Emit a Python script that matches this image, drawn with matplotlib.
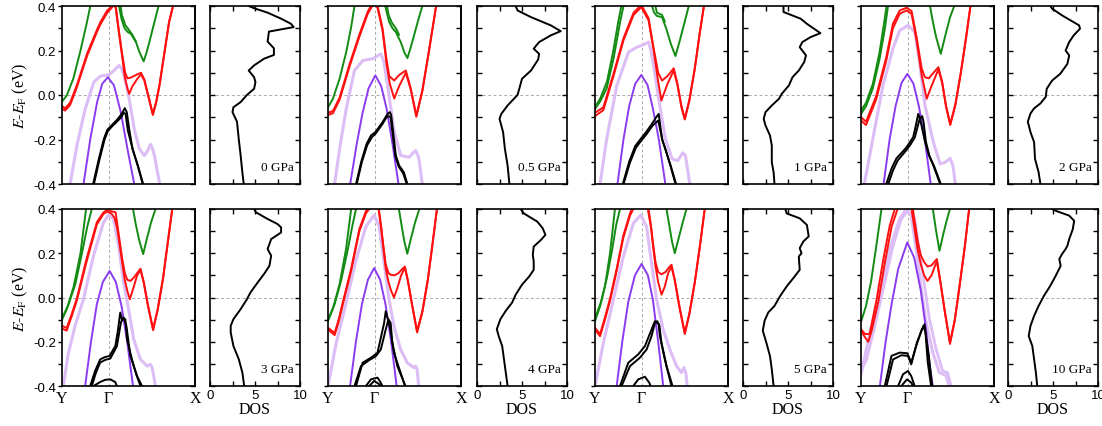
import numpy as np
import matplotlib.pyplot as plt

plt.rcParams['font.family'] = ['Liberation Serif', 'DejaVu Serif']
plt.rcParams['mathtext.fontset'] = 'stix'
plt.rcParams['axes.unicode_minus'] = False

# ---------------- data: bands as (k in % of Y-G-X path, E in eV) ----------------
pressures = ["0 GPa", "0.5 GPa", "1 GPa", "2 GPa", "3 GPa", "4 GPa", "5 GPa", "10 GPa"]
k_labels = ["Y", "\u0393", "X"]
k_pos = [0, 35, 100]

bands_0 = {
    "lav": [(6.1,-0.40),(11.2,-0.227),(17.5,-0.062),(23.9,0.058),(28.9,0.085),(35.3,0.091),(39.1,0.11),(42.9,0.133),(44.7,0.12),(46.7,0.088),(50.5,-0.017),(54.3,-0.152),(58.1,-0.242),(61.9,-0.272),(64.5,-0.25),(66.5,-0.222),(68,-0.24),(69.5,-0.272),(73.4,-0.40)],
    "purple": [(16.2,-0.40),(21.3,-0.197),(26.4,-0.032),(30.2,0.05),(34.5,0.08),(39.1,0.043),(44.2,-0.077),(49.2,-0.242),(54.3,-0.40)],
    "black_a": [(23.4,-0.40),(27.7,-0.287),(31.5,-0.197),(34,-0.157),(37.2,-0.137),(41.6,-0.11),(45.4,-0.08),(47.2,-0.059),(48.7,-0.077),(50.5,-0.152),(53,-0.242),(56.9,-0.317),(60.7,-0.40)],
    "black_b": [(24,-0.40),(28.2,-0.29),(32,-0.2),(34.5,-0.162),(37.5,-0.142),(41.6,-0.118),(44.5,-0.1),(46.5,-0.08),(47.8,-0.085),(49.5,-0.16),(53.3,-0.247),(57.2,-0.32),(61,-0.40)],
    "red_a": [(0,-0.05),(2.3,-0.06),(6.1,-0.035),(11.2,0.045),(18.8,0.185),(26.4,0.295),(28.9,0.328),(34,0.38),(37.8,0.40),(39.1,0.42),(40.4,0.40),(42.9,0.283),(45.4,0.178),(47.5,0.10),(49.2,0.075),(51.8,0.078),(55.6,0.09),(59.4,0.10),(61.9,0.07),(65,-0.005),(68.3,-0.085),(70.8,-0.03),(73.4,0.05),(77.2,0.20),(80.5,0.33),(83.5,0.40)],
    "red_b": [(0,-0.062),(2.3,-0.07),(6.1,-0.045),(11.2,0.035),(18.8,0.175),(26.4,0.285),(28.9,0.318),(34,0.37),(37.8,0.395),(39.1,0.41),(40.4,0.39),(42.9,0.275),(45.4,0.165),(47.2,0.08),(49.2,0.03),(50.5,0.005),(53,0.04),(56.9,0.075),(59.4,0.093),(61.9,0.065),(65,-0.01),(68.3,-0.09),(70.8,-0.035),(73.4,0.045),(77.2,0.195),(80.5,0.325),(83.5,0.40)],
    "green_l": [(0,-0.03),(3.6,-0.002),(8.6,0.075),(13.7,0.195),(18.3,0.315),(21.3,0.40),(22.5,0.44)],
    "green_r": [(42.3,0.44),(42.9,0.40),(44.7,0.343),(47.2,0.298),(49.5,0.283),(51.8,0.275),(55.6,0.238),(58.1,0.195),(61.4,0.151),(63.5,0.19),(65.7,0.238),(69.5,0.328),(72.6,0.40),(73.5,0.43)],
    "green_r2": [(43.6,0.42),(45,0.36),(47.5,0.315),(50,0.295),(53,0.27),(55.6,0.24)],
}
bands_05 = {
    "lav": [(5,-0.40),(8.7,-0.242),(13.7,-0.062),(19.9,0.11),(26.1,0.155),(33.6,0.163),(37,0.175),(39.8,0.185),(42,0.15),(44.8,0.043),(49.8,-0.167),(54.7,-0.272),(60.9,-0.28),(64,-0.26),(65.9,-0.25),(67.5,-0.27),(68.4,-0.287),(70.9,-0.40)],
    "purple": [(16.7,-0.40),(21.6,-0.22),(26,-0.08),(30.5,0.03),(35.6,0.088),(40,0.04),(44,-0.06),(48.5,-0.22),(53,-0.40)],
    "black_a": [(21.1,-0.40),(25,-0.3),(29,-0.22),(32.3,-0.182),(35.6,-0.167),(41,-0.122),(44.8,-0.085),(46.5,-0.077),(47.5,-0.09),(49,-0.167),(51,-0.272),(53.5,-0.317),(57,-0.347),(59.7,-0.40)],
    "black_b": [(21.6,-0.40),(25.5,-0.3),(29.5,-0.225),(33,-0.19),(36,-0.172),(41,-0.13),(44,-0.1),(45.8,-0.095),(47,-0.1),(48.5,-0.17),(50.6,-0.275),(53.2,-0.322),(56.5,-0.352),(59.2,-0.40)],
    "red_a": [(0,-0.08),(3.7,-0.072),(8.7,-0.012),(16.2,0.138),(23.6,0.272),(29.9,0.375),(32.3,0.40),(34.8,0.425),(37.3,0.40),(41,0.30),(44,0.16),(46,0.085),(49.8,0.065),(53.5,0.09),(58.5,0.11),(62.2,0.03),(66.4,-0.092),(70.9,0.02),(75.9,0.2),(81.3,0.40)],
    "red_b": [(0,-0.09),(3.7,-0.082),(8.7,-0.022),(16.2,0.128),(23.6,0.262),(29.9,0.365),(32.3,0.39),(34.8,0.415),(37.3,0.39),(41,0.29),(44,0.14),(46.5,0.05),(49.8,-0.016),(53.5,0.04),(58.5,0.1),(62.2,0.025),(66.4,-0.098),(70.9,0.015),(75.9,0.195),(81.3,0.40)],
    "green_l": [(0,-0.055),(3.7,-0.017),(8.7,0.073),(13.7,0.193),(17.4,0.305),(19.9,0.40),(20.8,0.44)],
    "green_r": [(42.5,0.44),(43,0.40),(46,0.328),(48.5,0.30),(51,0.283),(54.7,0.238),(57.5,0.19),(59.7,0.166),(62,0.21),(64.7,0.268),(68,0.34),(70.9,0.40),(71.8,0.43)],
    "green_r2": [(43.8,0.42),(45.5,0.36),(48,0.325),(51,0.30),(53.5,0.27)],
}
bands_1 = {
    "lav": [(3.8,-0.40),(8.8,-0.197),(16.4,0.043),(25.2,0.193),(31.5,0.215),(36,0.225),(40.3,0.238),(42,0.2),(44.1,0.133),(47.9,-0.017),(52.9,-0.197),(58,-0.287),(62.2,-0.295),(66,-0.26),(68,-0.272),(71.3,-0.40)],
    "purple": [(16.9,-0.40),(21.4,-0.2),(25.7,-0.05),(30.2,0.05),(34.8,0.09),(39.5,0.045),(43.5,-0.06),(48,-0.2),(52.9,-0.40)],
    "black_a": [(20.9,-0.40),(25.7,-0.3),(30.2,-0.23),(34,-0.2),(38,-0.17),(42.8,-0.13),(46,-0.1),(47.9,-0.085),(49.1,-0.14),(50.5,-0.2),(53,-0.245),(56.7,-0.317),(60.5,-0.40)],
    "black_b": [(21.5,-0.40),(26.2,-0.305),(30.7,-0.238),(34.5,-0.207),(38.5,-0.178),(43,-0.14),(45.5,-0.125),(47.5,-0.115),(48.8,-0.15),(50.8,-0.205),(53.3,-0.25),(57,-0.32),(61,-0.40)],
    "red_a": [(0,-0.08),(6.3,-0.055),(13.9,0.095),(21.4,0.255),(29,0.37),(34.8,0.405),(40.3,0.345),(44.1,0.21),(47.5,0.1),(50.4,0.065),(54.5,0.085),(59.2,0.12),(62,0.05),(65,-0.05),(67.5,-0.107),(71,-0.02),(75,0.12),(78.5,0.27),(81.9,0.40)],
    "red_b": [(0,-0.095),(6.3,-0.068),(13.9,0.085),(21.4,0.245),(29,0.36),(34.8,0.395),(40.3,0.335),(44.1,0.2),(47.5,0.06),(49.9,-0.025),(54.5,0.05),(59.2,0.11),(62,0.045),(65,-0.055),(67.5,-0.11),(71,-0.025),(75,0.115),(78.5,0.265),(81.9,0.40)],
    "green_l": [(0,-0.062),(3.8,-0.03),(8.8,0.03),(13.9,0.163),(18.9,0.328),(21.4,0.40),(22.3,0.44)],
    "green_l2": [(0,-0.055),(4,-0.015),(9,0.06),(13.5,0.19),(17.5,0.33),(19.8,0.40),(20.5,0.44)],
    "green_r": [(42.5,0.44),(42.8,0.40),(44.5,0.37),(46.6,0.355),(50.4,0.35),(53.5,0.30),(57,0.23),(60.5,0.175),(64,0.25),(67.5,0.33),(70.5,0.40),(71.3,0.43)],
    "green_r2": [(44.5,0.42),(46.6,0.37),(50.4,0.36),(52.5,0.33)],
}
bands_2 = {
    "lav": [(2.5,-0.40),(8.9,-0.197),(16.5,0.043),(24,0.208),(29.1,0.29),(35.4,0.313),(40.5,0.283),(44.3,0.133),(48.1,-0.047),(54.4,-0.212),(59.5,-0.31),(63.3,-0.302),(67.1,-0.285),(69.1,-0.317),(70.9,-0.40)],
    "purple": [(17,-0.40),(21.5,-0.2),(26,-0.05),(30.5,0.055),(34.9,0.095),(39.5,0.05),(43.5,-0.05),(48,-0.2),(52.4,-0.40)],
    "black_a": [(19,-0.40),(23,-0.33),(26.6,-0.285),(30.5,-0.26),(34.2,-0.235),(37,-0.21),(39.2,-0.19),(41.5,-0.13),(43,-0.085),(44,-0.1),(45.6,-0.14),(48.1,-0.21),(51,-0.27),(54.4,-0.317),(59.5,-0.40)],
    "black_b": [(20.5,-0.40),(24,-0.34),(27.5,-0.295),(31,-0.27),(34.5,-0.245),(37.5,-0.22),(40.5,-0.19),(44,-0.11),(46,-0.095),(47,-0.12),(48.8,-0.21),(51.5,-0.275),(55,-0.32),(60,-0.40)],
    "red_a": [(0,-0.1),(3.8,-0.12),(11.4,-0.005),(19,0.17),(24,0.32),(29.1,0.38),(34.2,0.392),(38,0.378),(41.8,0.26),(45.6,0.12),(48,0.08),(51,0.075),(54.5,0.1),(58.2,0.125),(61,0.06),(64,-0.05),(67.1,-0.13),(71,-0.04),(75,0.1),(79,0.26),(82.3,0.40)],
    "red_b": [(0,-0.115),(3.8,-0.135),(11.4,-0.02),(19,0.155),(24,0.3),(29.1,0.365),(34.2,0.38),(38,0.365),(41.8,0.245),(45.6,0.09),(49.4,-0.017),(53,0.04),(58.2,0.115),(61,0.055),(64,-0.055),(67.1,-0.135),(71,-0.045),(75,0.095),(79,0.255),(82.3,0.40)],
    "green_l": [(0,-0.085),(3.8,-0.05),(8.9,0.03),(13.9,0.16),(18,0.3),(20.3,0.40),(21,0.44)],
    "green_l2": [(0,-0.07),(3.8,-0.035),(8.9,0.05),(13.9,0.19),(17.5,0.33),(19.2,0.40),(19.8,0.44)],
    "green_r": [(51.5,0.44),(51.9,0.40),(54,0.33),(56.5,0.26),(60,0.185),(63.5,0.27),(67,0.35),(70.1,0.40),(70.8,0.43)],
}
bands_3 = {
    "lav": [(1,-0.40),(4.5,-0.26),(9.8,-0.128),(16.1,-0.008),(23.7,0.189),(31.2,0.34),(35,0.372),(38.8,0.355),(42.6,0.234),(46.3,0.068),(50.1,-0.053),(53.9,-0.189),(59,-0.28),(64,-0.31),(66.5,-0.302),(67.8,-0.317),(70.3,-0.40)],
    "purple": [(17.4,-0.40),(21.8,-0.2),(26.2,-0.03),(30.7,0.07),(35.8,0.12),(40.5,0.07),(44.8,-0.04),(49,-0.2),(53.4,-0.40)],
    "black_a": [(21.2,-0.40),(25,-0.33),(28.7,-0.28),(32,-0.27),(35.8,-0.264),(40.1,-0.219),(42,-0.15),(43.8,-0.068),(45,-0.098),(47.6,-0.098),(48.9,-0.189),(52.6,-0.28),(56,-0.35),(59,-0.40)],
    "black_b": [(22.4,-0.40),(25.5,-0.34),(28.7,-0.294),(32.5,-0.282),(36.3,-0.276),(41.3,-0.22),(44.3,-0.113),(46.3,-0.09),(48.4,-0.128),(51.4,-0.264),(56.4,-0.355),(60.2,-0.40)],
    "black_c": [(23.7,-0.40),(28.7,-0.382),(32.5,-0.372),(36.3,-0.37),(40,-0.382),(41.3,-0.40)],
    "red_a": [(0,-0.128),(3.5,-0.138),(7,-0.08),(11.1,-0.005),(18.6,0.178),(26.2,0.34),(31.2,0.385),(33.8,0.395),(37,0.39),(40.3,0.385),(41.6,0.33),(43.5,0.25),(45.3,0.175),(47.2,0.11),(49.1,0.08),(51.5,0.075),(54,0.09),(56.5,0.11),(59,0.13),(61.5,0.07),(64.5,-0.03),(68.5,-0.143),(72,-0.05),(76,0.09),(79.5,0.25),(82.9,0.40)],
    "red_b": [(0,-0.14),(3.5,-0.15),(7,-0.09),(11.1,-0.015),(18.6,0.165),(26.2,0.33),(31.2,0.378),(33.8,0.388),(37,0.38),(39.5,0.36),(41.6,0.31),(43.5,0.23),(45.3,0.155),(47.2,0.08),(49.1,0.03),(51,-0.008),(53.5,0.04),(56.5,0.1),(59,0.125),(61.5,0.065),(64.5,-0.035),(68.5,-0.148),(72,-0.055),(76,0.085),(79.5,0.245),(82.9,0.40)],
    "green_l": [(0,-0.10),(3.8,-0.05),(8.8,0.05),(13.9,0.2),(18.1,0.40),(18.8,0.44)],
    "green_l2": [(0,-0.095),(5,-0.03),(10,0.06),(15,0.2),(19,0.32),(22.4,0.40),(23,0.44)],
    "green_r": [(53,0.44),(53.4,0.40),(55.5,0.33),(58,0.26),(61,0.196),(64,0.27),(67,0.34),(70.3,0.40),(71,0.43)],
}
bands_4 = {
    "lav": [(0,-0.40),(6.2,-0.205),(13.6,-0.025),(21.1,0.17),(28.5,0.32),(34.7,0.373),(38.5,0.32),(42.2,0.155),(45.9,-0.008),(49.6,-0.13),(54.6,-0.235),(59.6,-0.295),(64.5,-0.317),(65.8,-0.31),(67,-0.325),(68.2,-0.40)],
    "purple": [(16.6,-0.40),(21,-0.2),(25.5,-0.03),(30,0.08),(34.7,0.133),(39.2,0.08),(43.2,-0.03),(47.5,-0.2),(51.6,-0.40)],
    "black_a": [(21.1,-0.40),(26,-0.295),(32.3,-0.272),(37.2,-0.25),(42.2,-0.115),(43.4,-0.062),(44.7,-0.092),(47.1,-0.115),(48.4,-0.205),(52.1,-0.31),(58.3,-0.40)],
    "black_b": [(19.9,-0.40),(24.8,-0.31),(31,-0.283),(36,-0.265),(39.7,-0.235),(43.4,-0.145),(45.4,-0.1),(46.4,-0.13),(49.6,-0.25),(54.6,-0.34),(57.8,-0.40)],
    "black_c": [(28.5,-0.40),(32.3,-0.37),(37.2,-0.362),(39.7,-0.385),(40.9,-0.40)],
    "black_d": [(31,-0.40),(34.7,-0.377),(38.5,-0.392),(39.7,-0.40)],
    "red_a": [(0,-0.137),(5,-0.16),(8,-0.1),(11.2,-0.02),(17.4,0.13),(23.6,0.31),(28.5,0.39),(31,0.41),(34.7,0.43),(38,0.41),(40,0.32),(41.5,0.24),(43.4,0.15),(45.5,0.11),(47.1,0.103),(50,0.1),(53,0.11),(56,0.13),(57.8,0.14),(60,0.08),(63.5,-0.04),(67,-0.152),(71,-0.06),(75,0.08),(78.5,0.24),(81.9,0.40)],
    "red_b": [(0,-0.145),(5,-0.17),(8,-0.11),(11.2,-0.03),(17.4,0.12),(23.6,0.3),(28.5,0.38),(31,0.40),(34.7,0.42),(38,0.40),(40,0.31),(41.5,0.23),(43.4,0.13),(45.5,0.07),(47.5,0.03),(49.6,0.0),(52,0.04),(55,0.1),(57.8,0.135),(60,0.075),(63.5,-0.045),(67,-0.158),(71,-0.065),(75,0.075),(78.5,0.235),(81.9,0.40)],
    "green_l": [(0,-0.107),(3.7,-0.05),(8.7,0.06),(13.6,0.22),(17.4,0.40),(18,0.44)],
    "green_l2": [(0,-0.1),(5,-0.03),(10,0.08),(15,0.22),(18.5,0.33),(21.1,0.40),(21.7,0.44)],
    "green_r": [(53,0.44),(53.3,0.40),(55.5,0.32),(57.5,0.25),(59.6,0.198),(62.5,0.27),(65.5,0.34),(68.7,0.40),(69.3,0.43)],
}
bands_5 = {
    "lav": [(0,-0.40),(6.3,-0.205),(13.8,-0.01),(21.3,0.185),(28.8,0.335),(34.3,0.373),(38.8,0.32),(42.5,0.155),(46.3,-0.008),(51.3,-0.145),(56.3,-0.235),(61.3,-0.31),(65,-0.34),(66.8,-0.317),(68.3,-0.34),(69.3,-0.40)],
    "purple": [(16.3,-0.40),(20.5,-0.2),(25,-0.02),(30,0.1),(35,0.152),(39.8,0.1),(43.5,-0.01),(47.5,-0.2),(51.3,-0.40)],
    "black_a": [(20,-0.40),(26.3,-0.31),(33.8,-0.272),(38.8,-0.235),(42.5,-0.175),(45,-0.115),(46.8,-0.107),(47.8,-0.12),(48.8,-0.175),(52.5,-0.28),(57.5,-0.40)],
    "black_b": [(18.8,-0.40),(25,-0.295),(32.5,-0.257),(37.5,-0.22),(42.5,-0.145),(45,-0.107),(48.3,-0.122),(50,-0.205),(53.8,-0.31),(58.3,-0.40)],
    "black_c": [(28.8,-0.40),(32.5,-0.37),(37.5,-0.358),(40.8,-0.385),(41.8,-0.40)],
    "red_a": [(0,-0.137),(3.8,-0.165),(7.5,-0.09),(11.3,-0.005),(16.3,0.13),(21.3,0.28),(26.3,0.38),(28.5,0.41),(35,0.46),(40,0.41),(42,0.33),(43.8,0.235),(45.5,0.16),(47.5,0.115),(50,0.105),(53,0.115),(55.5,0.135),(57.5,0.148),(60,0.08),(63.5,-0.04),(67.5,-0.16),(71,-0.07),(75,0.07),(79,0.24),(82.5,0.40)],
    "red_b": [(0,-0.145),(3.8,-0.175),(7.5,-0.1),(11.3,-0.015),(16.3,0.12),(21.3,0.27),(26.3,0.37),(28.8,0.40),(35,0.45),(39.7,0.40),(42,0.32),(43.8,0.225),(45.5,0.14),(47.5,0.07),(50,0.013),(52.5,0.05),(55,0.11),(57.5,0.14),(60,0.075),(63.5,-0.045),(67.5,-0.165),(71,-0.075),(75,0.065),(79,0.235),(82.5,0.40)],
    "green_l": [(0,-0.107),(3.8,-0.04),(7.5,0.05),(11.3,0.2),(15,0.40),(15.6,0.44)],
    "green_l2": [(0,-0.095),(4.5,-0.02),(9,0.09),(13,0.22),(16,0.33),(18.8,0.40),(19.4,0.44)],
    "green_r": [(53.4,0.44),(53.8,0.40),(56,0.32),(58,0.25),(60,0.2),(63,0.27),(66,0.34),(68.8,0.40),(69.4,0.43)],
}
bands_10 = {
    "lav": [(0,-0.347),(6.7,-0.158),(14.2,0.023),(21.6,0.219),(29.1,0.355),(34.1,0.40),(37.8,0.37),(41.5,0.219),(45.3,0.038),(49,-0.113),(54,-0.249),(59,-0.34),(63.9,-0.352),(66.4,-0.40)],
    "lav_b": [(0,-0.332),(4.2,-0.28),(9.2,-0.158),(16.7,0.038),(24.1,0.234),(30.3,0.355),(35.3,0.392),(40.3,0.355),(44,0.204),(47.8,0.053),(51.5,-0.098),(56.5,-0.234),(61.4,-0.332),(65.2,-0.34),(67.7,-0.40)],
    "purple": [(14.2,-0.40),(18.5,-0.2),(23,-0.03),(28,0.13),(34.8,0.249),(40,0.18),(45,0.03),(49,-0.15),(51.5,-0.3),(54,-0.40)],
    "black_a": [(17.9,-0.40),(22.9,-0.264),(29.1,-0.249),(34.8,-0.252),(37.8,-0.294),(41.5,-0.219),(45.3,-0.151),(47.8,-0.121),(48.5,-0.16),(50.2,-0.294),(52.7,-0.40)],
    "black_b": [(19.2,-0.40),(24.1,-0.28),(30.3,-0.261),(35.3,-0.264),(37.8,-0.302),(42,-0.204),(47,-0.128),(48.5,-0.158),(51,-0.264),(53.5,-0.40)],
    "black_c": [(27.9,-0.40),(31.6,-0.347),(35.3,-0.332),(37.8,-0.355),(40.3,-0.40)],
    "black_d": [(30.3,-0.40),(34.6,-0.37),(37.8,-0.385),(39,-0.40)],
    "red_a": [(0,-0.143),(3,-0.165),(6.5,-0.165),(11.7,-0.01),(16.7,0.17),(21.6,0.325),(25.4,0.40),(30,0.46),(35,0.48),(39,0.40),(41,0.32),(42.8,0.25),(45,0.19),(47.5,0.16),(50,0.14),(53,0.145),(57,0.174),(59.5,0.08),(63,-0.06),(66.9,-0.204),(70.5,-0.1),(74,0.05),(78,0.23),(81.3,0.40)],
    "red_b": [(0,-0.15),(3,-0.18),(5.5,-0.2),(8,-0.15),(13,-0.02),(18,0.16),(23,0.32),(27.5,0.40),(33,0.45),(38,0.40),(40.5,0.30),(42.5,0.22),(45,0.15),(47.5,0.1),(50,0.075),(53,0.1),(57,0.165),(59.5,0.075),(63,-0.065),(66.9,-0.21),(70.5,-0.105),(74,0.045),(78,0.225),(81.3,0.40)],
    "green_l": [(0,-0.11),(3.7,-0.04),(7.5,0.07),(11.2,0.22),(15.4,0.40),(16,0.44)],
    "green_r": [(53.6,0.44),(54,0.40),(56.5,0.3),(59,0.211),(62,0.29),(64.5,0.35),(66.9,0.40),(67.4,0.43)],
}
band_sets = [bands_0, bands_05, bands_1, bands_2, bands_3, bands_4, bands_5, bands_10]

# DOS (states, E in eV)
dos_0 = [(4.3,0.40),(4.9,0.39),(6.4,0.37),(7.9,0.343),(9.0,0.32),(9.3,0.305),(7.9,0.295),(6.55,0.285),(6.4,0.24),(7.1,0.21),(7.1,0.18),(6.0,0.163),(4.9,0.133),(4.3,0.11),(4.9,0.08),(5.05,0.058),(4.9,0.028),(4.1,0.0),(3.4,-0.032),(2.6,-0.055),(2.5,-0.077),(3.0,-0.12),(3.2,-0.2),(3.4,-0.27),(3.6,-0.35),(3.75,-0.40)]
dos_05 = [(4.3,0.40),(4.5,0.38),(6.0,0.35),(8.2,0.313),(9.3,0.287),(8.2,0.268),(6.9,0.238),(6.3,0.208),(6.9,0.185),(6.8,0.16),(6.0,0.11),(5.0,0.073),(4.7,0.028),(4.5,0.0),(3.4,-0.047),(2.7,-0.085),(2.5,-0.107),(2.9,-0.167),(3.1,-0.242),(3.4,-0.317),(3.6,-0.40)]
dos_1 = [(4.5,0.40),(4.5,0.373),(6.4,0.343),(7.1,0.32),(8.6,0.278),(7.5,0.26),(6.6,0.238),(6.3,0.215),(7.0,0.178),(6.8,0.148),(6.2,0.11),(5.5,0.08),(5.1,0.043),(4.3,0.005),(4.0,-0.017),(3.2,-0.047),(2.5,-0.077),(2.3,-0.107),(2.5,-0.137),(3.0,-0.182),(3.2,-0.227),(3.2,-0.302),(3.4,-0.347),(3.5,-0.40)]
dos_2 = [(4.7,0.40),(4.9,0.388),(6.0,0.358),(7.9,0.313),(8.0,0.298),(7.3,0.268),(6.8,0.238),(6.4,0.2),(6.8,0.178),(6.6,0.14),(5.8,0.095),(4.9,0.065),(4.3,0.028),(4.2,-0.008),(3.6,-0.038),(2.9,-0.06),(2.5,-0.083),(2.2,-0.12),(2.5,-0.167),(2.9,-0.212),(3.0,-0.287),(3.4,-0.347),(3.6,-0.40)]
dos_3 = [(4.9,0.40),(5.1,0.385),(6.4,0.355),(7.5,0.332),(7.9,0.317),(7.9,0.294),(6.8,0.264),(6.4,0.219),(6.8,0.189),(6.6,0.143),(6.0,0.106),(5.3,0.068),(4.5,0.023),(4.1,-0.008),(3.4,-0.053),(2.6,-0.098),(2.3,-0.128),(2.3,-0.158),(2.6,-0.219),(3.2,-0.279),(3.6,-0.34),(3.8,-0.40)]
dos_4 = [(4.85,0.40),(5.2,0.38),(6.7,0.343),(7.3,0.313),(7.6,0.283),(7.1,0.26),(6.3,0.23),(6.2,0.193),(6.3,0.163),(6.3,0.125),(5.8,0.095),(5.0,0.058),(4.3,0.013),(3.9,-0.023),(3.2,-0.06),(2.6,-0.098),(2.2,-0.143),(2.4,-0.173),(2.8,-0.22),(3.0,-0.28),(3.2,-0.34),(3.4,-0.40)]
dos_5 = [(4.7,0.40),(4.85,0.38),(6.3,0.358),(7.1,0.328),(7.3,0.276),(6.7,0.253),(6.3,0.223),(6.5,0.2),(6.2,0.185),(6.3,0.125),(5.6,0.088),(4.85,0.05),(4.1,0.005),(3.5,-0.038),(2.8,-0.068),(2.4,-0.105),(2.2,-0.15),(2.6,-0.205),(3.0,-0.265),(3.2,-0.325),(3.4,-0.40)]
dos_10 = [(4.9,0.40),(5.3,0.392),(6.8,0.37),(7.35,0.347),(7.2,0.309),(6.8,0.264),(6.6,0.234),(6.4,0.219),(6.0,0.196),(5.7,0.174),(5.85,0.143),(5.3,0.098),(4.7,0.053),(4.0,0.008),(3.4,-0.038),(2.9,-0.083),(2.5,-0.128),(2.3,-0.174),(2.7,-0.219),(2.9,-0.279),(3.1,-0.34),(3.25,-0.40)]
dos_sets = [dos_0, dos_05, dos_1, dos_2, dos_3, dos_4, dos_5, dos_10]

# ---------------- style ----------------
colors = {"lav": "#dcbdf5", "lav_b": "#dcbdf5", "purple": "#8c3cf0",
          "black_a": "black", "black_b": "black", "black_c": "black", "black_d": "black",
          "red_a": "#ff1010", "red_b": "#ff1010",
          "green_l": "#148c14", "green_l2": "#148c14", "green_r": "#148c14", "green_r2": "#148c14"}
widths = {"lav": 2.2, "lav_b": 2.0}
draw_order = ["lav", "lav_b", "purple", "black_a", "black_b", "black_c", "black_d",
              "red_a", "red_b", "green_l", "green_l2", "green_r", "green_r2"]

W, H = 1102, 427
band_left = [62, 328, 595, 861]
dos_left = [210, 477, 743, 1008]
band_w, dos_w = 133, 90
row_top = [7, 210]
row_h = [178, 177]

fig = plt.figure(figsize=(W / 100, H / 100), dpi=100)
dash = dict(color="#aaaaaa", lw=0.7, ls=(0, (3, 2.5)))
sans = "Liberation Sans"

for i in range(8):
    r, c = divmod(i, 4)
    y0 = 1 - (row_top[r] + row_h[r]) / H
    hh = row_h[r] / H

    # band structure
    ax = fig.add_axes([band_left[c] / W, y0, band_w / W, hh])
    ax.axhline(0, zorder=0, **dash)
    ax.axvline(k_pos[1], zorder=0, **dash)
    bands = band_sets[i]
    for name in draw_order:
        if name in bands:
            k, e = zip(*bands[name])
            ax.plot(k, e, color=colors[name], lw=widths.get(name, 1.4),
                    solid_joinstyle="round", solid_capstyle="round")
    ax.set_xlim(0, 100)
    ax.set_ylim(-0.4, 0.4)
    ax.set_yticks(np.arange(-0.4, 0.41, 0.2))
    ax.set_yticks(np.arange(-0.3, 0.4, 0.2), minor=True)
    ax.yaxis.set_major_formatter(plt.FormatStrFormatter("%.1f"))
    ax.tick_params(axis="y", which="both", direction="out", length=3, width=1,
                   right=False, labelleft=(c == 0), labelsize=9.5,
                   labelfontfamily=sans, pad=1.5)
    sec = ax.secondary_yaxis("right")
    sec.set_yticks(np.arange(-0.4, 0.41, 0.1))
    sec.tick_params(direction="in", length=3.5, width=1, labelright=False)
    ax.set_xticks(k_pos)
    ax.tick_params(axis="x", length=0, labelbottom=(r == 1), labelsize=11.5, pad=3)
    ax.set_xticklabels(k_labels)
    for s in list(ax.spines.values()) + [sec.spines["right"]]:
        s.set_linewidth(1.2)
    if c == 0:
        ax.set_ylabel(r"$E$-$E_\mathrm{F}$ (eV)", fontsize=11.5, labelpad=2)

    # DOS
    axd = fig.add_axes([dos_left[c] / W, y0, dos_w / W, hh])
    axd.axhline(0, zorder=0, **dash)
    d, e = zip(*dos_sets[i])
    axd.plot(d, e, color="black", lw=1.4, solid_joinstyle="round")
    axd.set_xlim(0, 10)
    axd.set_ylim(-0.4, 0.4)
    axd.set_xticks([0, 5, 10])
    axd.set_xticks([2.5, 7.5], minor=True)
    axd.set_yticks(np.arange(-0.4, 0.41, 0.1))
    axd.tick_params(which="both", direction="in", top=True, right=True, length=3.5,
                    width=1, labelleft=False, labelbottom=(r == 1), labelsize=9.5,
                    labelfontfamily=sans, pad=2)
    for s in axd.spines.values():
        s.set_linewidth(1.2)
    if r == 1:
        axd.set_xlabel("DOS", fontsize=11.5, labelpad=0)
    axd.text(0.93, 0.06, pressures[i], transform=axd.transAxes, ha="right",
             va="bottom", fontsize=9.5)

fig.savefig("out.png", dpi=100)
